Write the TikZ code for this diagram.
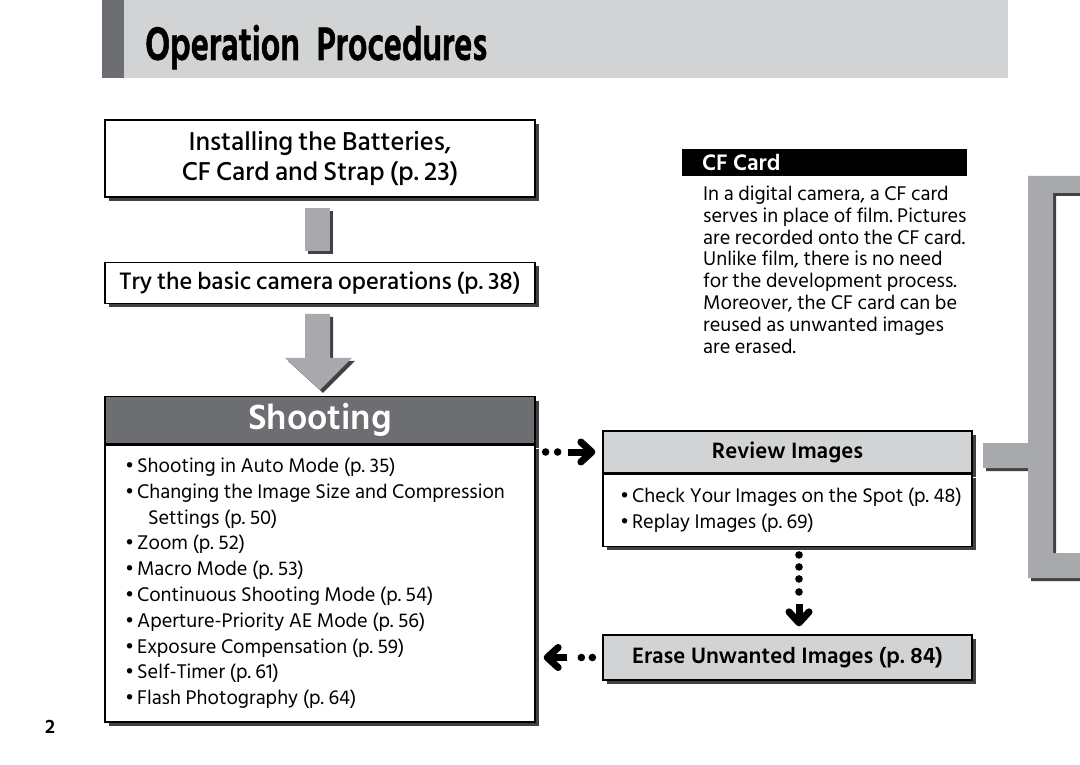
\documentclass[tikz,border=0pt]{standalone}
\usepackage{fontspec}
\setmainfont{Hind Siliguri}
\newfontfamily\heavyfam{Hind Siliguri}[BoldFeatures={FakeBold=1.6}]
\newfontfamily\medfam{Hind Siliguri Medium}[WordSpace=0.85]
\usetikzlibrary{calc}
\usetikzlibrary{positioning}
\usetikzlibrary{shadows}
\usetikzlibrary{arrows.meta}
\definecolor{barGray}{HTML}{D1D3D4}
\definecolor{midGray}{HTML}{A7A9AC}
\definecolor{darkGray}{HTML}{6D6E71}
\definecolor{shadeGray}{HTML}{414042}
\newcommand{\bul}{\textbullet\hspace{3pt}}
\newcommand{\natsp}{\spaceskip=0pt\xspaceskip=0pt}
\frenchspacing
\tikzset{%
  block/.style    = {draw=black, line width=1.3pt, fill=white, rectangle, inner sep=0pt,
    drop shadow={shadow xshift=4pt, shadow yshift=-4pt, fill=shadeGray, opacity=1}},
  head/.style     = {block, fill=barGray, font=\fontsize{22.8}{26}\selectfont\bfseries},
  list/.style     = {block, align=left},
  grayblock/.style = {fill=midGray, drop shadow={shadow xshift=3pt, shadow yshift=-3pt, fill=shadeGray, opacity=1}},
  dot/.style      = {fill=black},
  fatarrow/.style = {line width=7pt, -{Straight Barb[length=11pt, width=20pt, round]}}
}
\begin{document}
\begin{tikzpicture}[x=1pt, y=-1pt]
  \useasboundingbox (0,0) rectangle (1080,765);
  % title bar
  \fill[barGray] (102,0) rectangle (1008,78);
  \fill[darkGray] (102,0) rectangle (124,78);
  \node[anchor=base west, inner sep=0pt, font=\fontsize{48}{48}\selectfont\heavyfam\bfseries] (title) at (145,60)
    {\scalebox{0.72}[1]{Operation\ \ Procedures}};

  % left column
  \node[block, minimum width=430pt, minimum height=77pt, align=center,
    font=\fontsize{26.5}{30}\selectfont\medfam] (install) at (320,158.5)
    {Installing the Batteries,\\ CF Card and Strap (p. 23)};
  \node[block, minimum width=430pt, minimum height=41pt,
    font=\fontsize{24.4}{28}\selectfont\medfam, below=64pt of install] (try)
    {Try the basic camera operations (p. 38)};
  \node[block, fill=darkGray, text=white, minimum width=430pt, minimum height=47pt,
    font=\fontsize{36}{38}\selectfont\bfseries, below=92pt of try] (shoothead) {Shooting};
  \node[list, minimum width=430pt, minimum height=277pt, text width=390pt, inner xsep=20pt,
    font=\fontsize{20.3}{25.8}\selectfont, below=0pt of shoothead] (shoot)
    {\natsp\bul Shooting in Auto Mode (p. 35)\\
     \mbox{\bul Changing the Image Size and Compression}\\
     \hspace*{23pt}Settings (p. 50)\\
     \bul Zoom (p. 52)\\
     \bul Macro Mode (p. 53)\\
     \bul Continuous Shooting Mode (p. 54)\\
     \bul Aperture-Priority AE Mode (p. 56)\\
     \bul Exposure Compensation (p. 59)\\
     \bul Self-Timer (p. 61)\\
     \bul Flash Photography (p. 64)\par\vspace*{6pt}};
  % header drawn again so the list box does not cover it
  \node[draw=black, line width=1.3pt, fill=darkGray, text=white, minimum width=430pt, minimum height=47pt,
    inner sep=0pt, font=\fontsize{36}{38}\selectfont\bfseries] at (shoothead) {Shooting};

  % gray connectors
  \path[grayblock] ($(install.south)+(-15,10)$) rectangle ($(try.north)+(10,-11)$);
  \path[grayblock] ($(try.south)+(-15,10)$) -- ($(try.south)+(10,10)$)
    -- ($(try.south)+(10,54)$) -- ($(try.south)+(32,54)$)
    -- ($(shoothead.north)+(0,-6)$) -- ($(try.south)+(-35,54)$)
    -- ($(try.south)+(-15,54)$) -- cycle;

  % right column
  \node[head, minimum width=369pt, minimum height=42pt] (revhead) at (787.5,452) {Review Images};
  \node[list, minimum width=369pt, minimum height=72pt, text width=335pt, inner xsep=17pt,
    font=\fontsize{20.3}{26}\selectfont, below=0pt of revhead] (review)
    {\natsp\mbox{\bul Check Your Images on the Spot (p. 48)}\\
     \mbox{\bul Replay Images (p. 69)}};
  \node[head, minimum width=369pt, minimum height=45pt] (erase) at (787.5,657.5)
    {Erase Unwanted Images (p. 84)};

  % CF card note
  \node[fill=black, text=white, minimum width=285pt, minimum height=27pt, inner xsep=20pt,
    text width=245pt, align=left, inner ysep=0pt,
    font=\fontsize{23}{25}\selectfont\bfseries] (cfhead) at (824.5,162.5) {\natsp CF Card};
  \node[anchor=north west, inner sep=0pt, align=left,
    font=\fontsize{20.3}{21.9}\selectfont] (cftext) at (703,185.5)
    {In a digital camera, a CF card\\
     serves in place of film. Pictures\\
     are recorded onto the CF card.\\
     Unlike film, there is no need\\
     for the development process.\\
     Moreover, the CF card can be\\
     reused as unwanted images\\
     are erased.};

  % dotted arrows
  \foreach \d in {10,22}
    \fill[dot] ($(shoot.east |- revhead.west)+(\d,0)$) circle (3.8);
  \draw[fatarrow] ($(shoot.east |- revhead.west)+(32,0)$) -- ($(revhead.west)+(-7,0)$);
  \foreach \d in {8,20,32,45}
    \fill[dot] ($(review.south)+(11.5,\d)$) circle (3.8);
  \draw[fatarrow] ($(review.south)+(11.5,57)$) -- ($(erase.north)+(11.5,-8)$);
  \foreach \d in {10,21}
    \fill[dot] ($(erase.west)+(-\d,0)$) circle (3.8);
  \draw[fatarrow] ($(erase.west)+(-35,0)$) -- ($(shoot.east |- erase.west)+(8,0)$);

  % bracket
  \path[grayblock] (1080,176) -- (1028,176) -- (1028,443) -- (983,443) -- (983,468)
    -- (1028,468) -- (1028,578) -- (1080,578) -- (1080,553) -- (1053,553)
    -- (1053,193) -- (1080,193) -- cycle;

  % page number
  \node[font=\fontsize{20}{20}\selectfont\bfseries] (page) at (50,727) {2};
\end{tikzpicture}
\end{document}
